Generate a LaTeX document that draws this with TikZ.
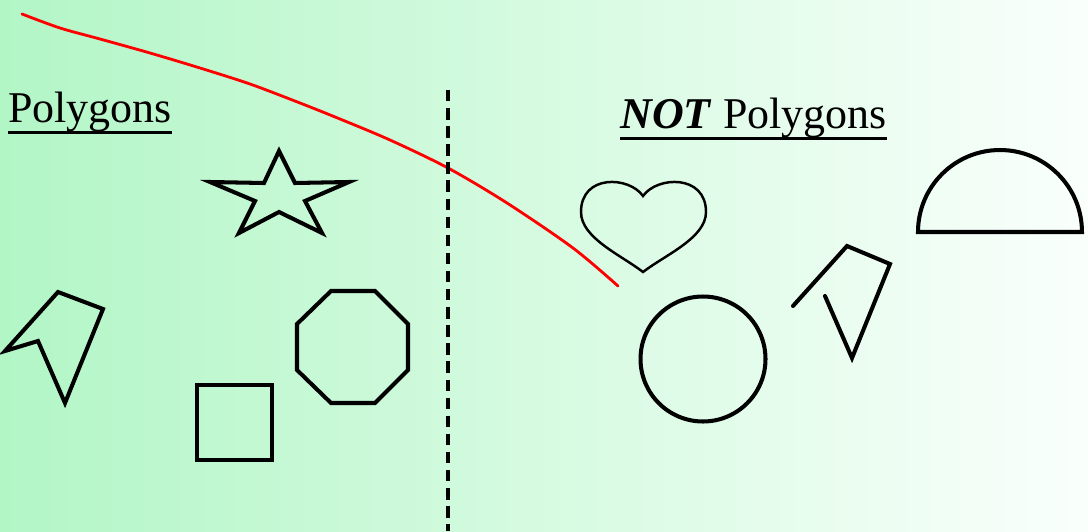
\documentclass[tikz,border=0pt]{standalone}
\usepackage{fontspec}
\setmainfont{Liberation Serif}
\begin{document}
\begin{tikzpicture}[x=0.02cm,y=-0.02cm,
  outl/.style={draw=black,line width=2.3pt,line join=miter},
  lbl/.style={inner sep=0pt,anchor=base west,font=\fontsize{25}{28}\selectfont},
  uline/.style={draw=black,line width=1.2pt}]
\useasboundingbox (0,0) rectangle (1088,531);
\shade[left color={rgb,255:red,178;green,246;blue,198},right color={rgb,255:red,250;green,255;blue,252}] (0,0) rectangle (1088,531);
% red curve
\draw[red,line width=1.6pt,line cap=round] plot[smooth,tension=0.5] coordinates {(22,14) (60,28) (100,39) (150,53) (200,68) (250,84) (300,103) (340,119) (390,140) (448,168) (507,203) (573,248) (618,286)};
% divider
\coordinate (dtop) at (448,90);
\coordinate (dbot) at (448,531);
\draw[black,line width=2pt,dash pattern=on 6.5pt off 3.8pt] (dtop) -- (dbot);
% labels
\node[lbl] (poly) at (8,122) {Polygons};
\draw[uline] ([yshift=-6pt]poly.base west) -- ([yshift=-6pt]poly.base east);
\node[lbl] (notpoly) at (620,128) {\textbf{\textit{NOT}} Polygons};
\draw[uline] ([yshift=-6pt]notpoly.base west) -- ([yshift=-6pt]notpoly.base east);
% star
\draw[outl] (279,151) -- (295,183) -- (349,182) -- (305,201) -- (322,233) -- (279,212) -- (239,233) -- (255,201) -- (210,182) -- (264,183) -- cycle;
% arrow polygon
\draw[outl] (58,292) -- (103,309) -- (65,403) -- (38,341) -- (5,351) -- cycle;
% octagon
\draw[outl] (331,291) -- (375,291) -- (408,324) -- (408,370) -- (375,403) -- (331,403) -- (297,370) -- (297,324) -- cycle;
% square
\draw[outl] (197,385) rectangle (272,460);
% heart
\draw[draw=black,line width=1.4pt] (643,196) .. controls (657,176) and (706,174) .. (706,212) .. controls (706,238) and (665,255) .. (643,272) .. controls (621,255) and (581,238) .. (581,212) .. controls (581,174) and (629,176) .. (643,196) -- cycle;
% circle
\draw[outl] (703,359) circle[radius=1.25cm];
% open polygon
\draw[outl,line cap=round] (793,306) -- (847,246) -- (890,264) -- (852,358) -- (825,296);
% semicircle
\draw[outl] (918,232) arc[start angle=180,end angle=0,radius=1.64cm] -- cycle;
\end{tikzpicture}
\end{document}
